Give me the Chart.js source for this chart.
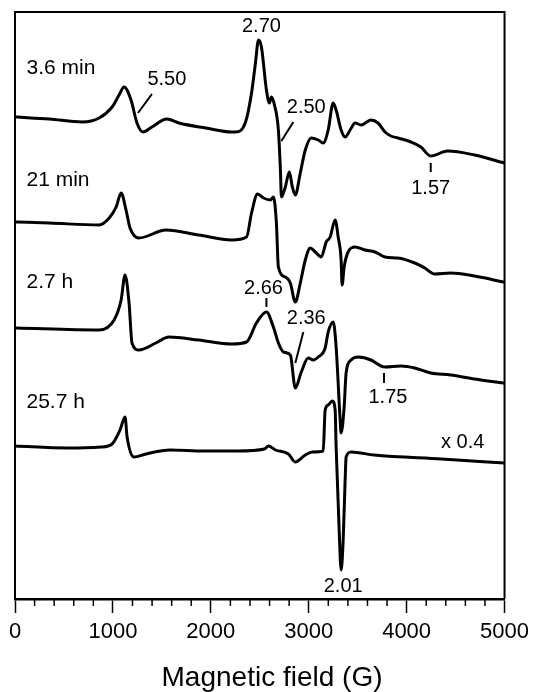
<!DOCTYPE html>
<html>
<head>
<meta charset="utf-8">
<script src="https://cdn.jsdelivr.net/npm/chart.js@4.4.0/dist/chart.umd.min.js"></script>
<style>
  html, body { margin: 0; padding: 0; background: #fff; }
  #wrap { width: 535px; height: 692px; position: relative; }
</style>
</head>
<body>
<div id="wrap"><canvas id="epr"></canvas></div>
<script>
// EPR traces, field in gauss, signal in arbitrary units relative to each baseline
const field36min = [15, 351, 687, 860, 992, 1063, 1114, 1185, 1246, 1307, 1399, 1551, 1674, 1948, 2212, 2253, 2355, 2416, 2456, 2487, 2517, 2568, 2599, 2619, 2650, 2690, 2711, 2721, 2761, 2802, 2833, 2863, 2914, 2965, 3026, 3097, 3148, 3199, 3250, 3280, 3331, 3372, 3423, 3474, 3535, 3636, 3708, 3779, 3840, 3911, 4043, 4145, 4246, 4419, 4694, 5000]
const signal36min = [0, -2, -5, -1, 10, 22, 30, 17, -6, -15, -10, -2, -6, -11, -15, -15, -5, 24, 54, 77, 70, 27, 14, 20, 12, -13, -53, -80, -70, -55, -70, -78, -56, -33, -21, -23, -26, -13, 14, 7, -13, -20, -13, -6, -8, -3, -6, -15, -19, -21, -25, -30, -39, -34, -38, -46]

const field21min = [15, 351, 860, 962, 1033, 1084, 1134, 1175, 1266, 1541, 1877, 2212, 2365, 2416, 2477, 2538, 2609, 2639, 2670, 2690, 2761, 2812, 2863, 2914, 2965, 3016, 3067, 3128, 3179, 3219, 3270, 3301, 3331, 3341, 3362, 3402, 3474, 3575, 3677, 3779, 3911, 4083, 4185, 4287, 4449, 4694, 4989]
const signal21min = [0, -1, -3, 4, 15, 29, 12, -6, -16, -8, -13, -18, -15, 9, 28, 24, 22, 25, -1, -45, -55, -61, -80, -61, -38, -26, -30, -35, -20, -15, 2, -15, -38, -63, -45, -30, -25, -28, -30, -35, -36, -41, -46, -52, -51, -54, -60]

const field27h = [15, 860, 1012, 1084, 1124, 1165, 1195, 1266, 1439, 1571, 1877, 2212, 2365, 2466, 2568, 2639, 2690, 2741, 2812, 2863, 2924, 2995, 3046, 3097, 3168, 3199, 3250, 3280, 3321, 3331, 3362, 3382, 3433, 3504, 3636, 3738, 3779, 3942, 4083, 4246, 4449, 4694, 4989]
const signal27h = [0, -2, 8, 28, 53, 25, -15, -22, -15, -9, -12, -16, -14, 5, 16, 1, -15, -24, -27, -60, -44, -30, -32, -29, -20, -4, 6, -19, -92, -105, -79, -45, -32, -29, -32, -38, -39, -38, -40, -45, -47, -51, -55]

const field257h = [0, 534, 880, 992, 1073, 1124, 1145, 1216, 1338, 1582, 1928, 2273, 2548, 2588, 2660, 2792, 2863, 2965, 3036, 3148, 3168, 3199, 3240, 3270, 3280, 3311, 3331, 3352, 3372, 3382, 3433, 3667, 4358, 5000]
const signal257h = [0, -2, -1, 2, 16, 29, 9, -11, -8, -4, -5, -5, -3, 0, -4, -8, -16, -9, -6, -5, 36, 41, 45, 36, -1, -84, -124, -94, -34, -11, -6, -9, -13, -17]

const traceNames = ['3.6 min', '21 min', '2.7 h', '25.7 h']
const traceOffsets = [482, 377, 271, 153]
const traceFields = [field36min, field21min, field27h, field257h]
const traceSignals = [signal36min, signal21min, signal27h, signal257h]

const gLabels = ['2.70', '5.50', '2.50', '1.57', '2.66', '2.36', '1.75', '2.01', 'x 0.4']

// annotation placement (field, plot units)
const gLabelAt = [[2517, 573], [1551, 520], [2975, 492], [4246, 411], [2538, 311], [2975, 281], [3809, 202], [3352, 13], [4572, 157]]
const leaders = [[1399, 505, 1256, 486], [2843, 477, 2721, 458], [4246, 436, 4246, 427], [2568, 301, 2568, 292], [2945, 267, 2863, 236], [3769, 226, 3769, 216]]
const nameAt = [[117, 531], [117, 419], [117, 317], [117, 197]]

const FONT = '"Liberation Sans", Arial, Helvetica, sans-serif'

let datasets = traceNames.map(function(name, i) {
  return {
    label: name,
    data: traceFields[i].map((f, k) => ({ x: f, y: traceOffsets[i] + traceSignals[i][k] })),
    borderColor: '#000',
    borderWidth: 3,
    pointRadius: 0,
    fill: false,
    cubicInterpolationMode: 'monotone',
    borderJoinStyle: 'round',
    borderCapStyle: 'round',
  }
})

const frameAndNotes = {
  id: 'frameAndNotes',
  afterDraw(chart) {
    let { ctx, chartArea: a } = chart
    let xS = chart.scales.x, yS = chart.scales.y
    ctx.save()
    ctx.strokeStyle = '#000'
    ctx.lineWidth = 2
    ctx.beginPath()
    ctx.moveTo(a.left, a.bottom)
    ctx.lineTo(a.left, a.top)
    ctx.lineTo(a.right, a.top)
    ctx.lineTo(a.right, a.bottom)
    ctx.stroke()

    // minor ticks, shorter than the labelled ones
    ctx.lineWidth = 1.5
    xS.ticks.forEach(function(t) {
      if (t.value % 1000 === 0) return
      let px = xS.getPixelForValue(t.value)
      ctx.beginPath()
      ctx.moveTo(px, a.bottom)
      ctx.lineTo(px, a.bottom + 7)
      ctx.stroke()
    })

    // leader marks
    ctx.lineWidth = 2
    leaders.forEach(function(l) {
      ctx.beginPath()
      ctx.moveTo(xS.getPixelForValue(l[0]), yS.getPixelForValue(l[1]))
      ctx.lineTo(xS.getPixelForValue(l[2]), yS.getPixelForValue(l[3]))
      ctx.stroke()
    })

    ctx.fillStyle = '#000'
    ctx.textBaseline = 'middle'
    ctx.textAlign = 'center'
    ctx.font = '20px ' + FONT
    gLabels.forEach(function(txt, i) {
      ctx.fillText(txt, xS.getPixelForValue(gLabelAt[i][0]), yS.getPixelForValue(gLabelAt[i][1]))
    })

    ctx.textAlign = 'left'
    ctx.font = '21px ' + FONT
    traceNames.forEach(function(txt, i) {
      ctx.fillText(txt, xS.getPixelForValue(nameAt[i][0]), yS.getPixelForValue(nameAt[i][1]))
    })

    // axis title
    ctx.textAlign = 'center'
    ctx.font = '28px ' + FONT
    ctx.fillText('Magnetic field (G)', 272, 678)
    ctx.restore()
  },
}

new Chart(document.getElementById('epr'), {
  type: 'line',
  data: { datasets: datasets },
  options: {
    responsive: true,
    maintainAspectRatio: false,
    animation: false,
    layout: { padding: { left: 15, right: 27, top: 12, bottom: 0 } },
    plugins: { legend: { display: false }, tooltip: { enabled: false } },
    scales: {
      x: {
        type: 'linear',
        min: 0,
        max: 5000,
        afterFit(scale) { scale.height = 93 },
        border: { display: true, color: '#000', width: 2.5 },
        grid: {
          drawOnChartArea: false,
          drawTicks: true,
          tickLength: 14,
          tickWidth: 1.5,
          tickColor: (c) => (c.tick && c.tick.value % 1000 === 0 ? '#000' : 'rgba(0,0,0,0)'),
        },
        ticks: {
          stepSize: 200,
          autoSkip: false,
          maxRotation: 0,
          padding: 6,
          color: '#000',
          font: { family: FONT, size: 22 },
          callback: (v) => (v % 1000 === 0 ? String(v) : ''),
        },
      },
      y: { display: false, min: 0, max: 587 },
    },
  },
  plugins: [frameAndNotes],
})
</script>
</body>
</html>
